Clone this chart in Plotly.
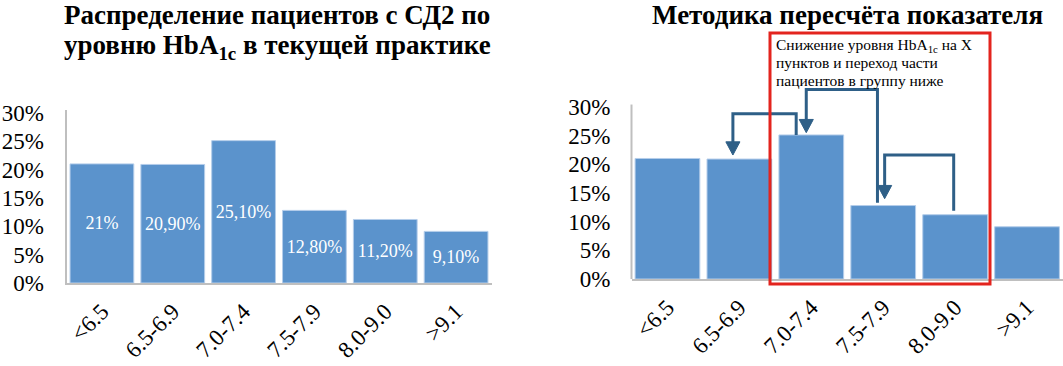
import plotly.graph_objects as go

# ---- data ----
categories = ["<6.5", "6.5-6.9", "7.0-7.4", "7.5-7.9", "8.0-9.0", ">9.1"]
shares = [21.0, 20.9, 25.1, 12.8, 11.2, 9.1]          # % of patients
share_labels = ["21%", "20,90%", "25,10%", "12,80%", "11,20%", "9,10%"]
y_ticks = [0, 5, 10, 15, 20, 25, 30]
y_tick_labels = ["0%", "5%", "10%", "15%", "20%", "25%", "30%"]

# arrows on the right chart: move from group -> lower group
arrow_from = [2, 3, 4]
arrow_to = [1, 2, 3]
arrow_top = [28.8, 33.0, 21.6]          # height of the horizontal segment, %

title_left_1 = "<b>Распределение пациентов с СД2 по</b>"
title_left_2 = "<b>уровню HbA<sub>1c</sub> в текущей практике</b>"
title_right = "<b>Методика пересчёта показателя</b>"
box_lines = ["Снижение уровня HbA<sub>1c</sub> на Х",
             "пунктов и переход части",
             "пациентов в группу ниже"]

# ---- style ----
W, H = 1063, 366
FONT = "Liberation Serif, Times New Roman, serif"
BAR = "#5B93CC"
BAR_EDGE = "#B4CDEA"
ARROW = "#2E5F87"
AXIS = "#BFBFBF"


def px(x):
    return x / W


def py(y):
    return 1 - y / H


idx = list(range(len(categories)))

fig = go.Figure()

fig.add_trace(go.Bar(
    x=idx, y=shares, xaxis="x", yaxis="y",
    marker=dict(color=BAR, line=dict(color=BAR_EDGE, width=1)),
    text=share_labels, textposition="inside", insidetextanchor="middle",
    textfont=dict(family=FONT, size=18, color="white"),
    constraintext="none", showlegend=False, hoverinfo="skip",
))

fig.add_trace(go.Bar(
    x=idx, y=shares, xaxis="x2", yaxis="y2",
    marker=dict(color=BAR, line=dict(color=BAR_EDGE, width=1)),
    showlegend=False, hoverinfo="skip",
))

# arrows
from_off = [-0.21, -0.08, -0.02]
to_off = [-0.09, -0.07, 0.02]
start_gap = [0.0, 0.5, 0.7]
tip_gap = [0.7, 0.4, 1.2]
head_hw = 0.098
head_h = 2.3
for k in range(len(arrow_from)):
    f, t = arrow_from[k], arrow_to[k]
    xs = f + from_off[k]
    xt = t + to_off[k]
    y0 = shares[f] + start_gap[k]
    ytip = shares[t] + tip_gap[k]
    fig.add_trace(go.Scatter(
        x=[xs, xs, xt, xt], y=[y0, arrow_top[k], arrow_top[k], ytip + head_h - 0.3],
        mode="lines", line=dict(color=ARROW, width=3),
        xaxis="x2", yaxis="y2", showlegend=False, hoverinfo="skip",
    ))
    fig.add_trace(go.Scatter(
        x=[xt - head_hw, xt + head_hw, xt, xt - head_hw],
        y=[ytip + head_h, ytip + head_h, ytip, ytip + head_h],
        mode="lines", fill="toself", fillcolor=ARROW, line=dict(color=ARROW, width=1),
        xaxis="x2", yaxis="y2", showlegend=False, hoverinfo="skip",
    ))

axis_common = dict(showgrid=False, zeroline=False, automargin=False)
xcommon = dict(axis_common, tickvals=idx, ticktext=categories, range=[-0.5, 5.5],
               tickangle=-45, tickfont=dict(family=FONT, size=23, color="black"),
               showline=True, linecolor=AXIS, linewidth=2, ticks="",
               ticklabelstandoff=4)
ycommon = dict(axis_common, tickvals=y_ticks, ticktext=y_tick_labels,
               tickfont=dict(family=FONT, size=23, color="black"), ticks="")

fig.update_layout(
    width=W, height=H,
    margin=dict(l=0, r=0, t=0, b=0, autoexpand=False),
    paper_bgcolor="white", plot_bgcolor="white",
    bargap=0.1,
    xaxis=dict(xcommon, domain=[px(66.5), px(491.5)], anchor="y"),
    yaxis=dict(ycommon, domain=[py(283), py(110)], range=[0, 30.5],
               showline=True, linecolor=AXIS, linewidth=2, anchor="x",
               ticklabelstandoff=16),
    xaxis2=dict(xcommon, domain=[px(631.5), px(1063)], anchor="y2"),
    yaxis2=dict(ycommon, domain=[py(279), py(81)], range=[0, 34.5],
                showline=False, anchor="x2", ticklabelstandoff=20),
)

# right y-axis line (stops at the top of the tick range like the reference)
fig.add_shape(type="line", xref="x2 domain", yref="y2", x0=0, x1=0, y0=0, y1=30.4,
              line=dict(color=AXIS, width=2), layer="below")

# red callout box
fig.add_shape(type="rect", xref="paper", yref="paper",
              x0=px(770), x1=px(990), y0=py(284), y1=py(33),
              line=dict(color="#E3241E", width=3), fillcolor="rgba(0,0,0,0)")

for i, line in enumerate(box_lines):
    fig.add_annotation(xref="paper", yref="paper", x=px(774), y=py([45, 63, 80][i]),
                       xanchor="left", yanchor="middle", showarrow=False, text=line,
                       font=dict(family=FONT, size=15.5, color="black"))

fig.add_annotation(xref="paper", yref="paper", x=px(277), y=py(15), xanchor="center",
                   yanchor="middle", showarrow=False, text=title_left_1,
                   font=dict(family=FONT, size=27, color="black"))
fig.add_annotation(xref="paper", yref="paper", x=px(277), y=py(47), xanchor="center",
                   yanchor="middle", showarrow=False, text=title_left_2,
                   font=dict(family=FONT, size=27, color="black"))
fig.add_annotation(xref="paper", yref="paper", x=px(847), y=py(15), xanchor="center",
                   yanchor="middle", showarrow=False, text=title_right,
                   font=dict(family=FONT, size=27, color="black"))

fig.write_html("out.html", config={"displayModeBar": False},
               post_script="document.body.style.margin='0';document.body.style.overflow='hidden';")
